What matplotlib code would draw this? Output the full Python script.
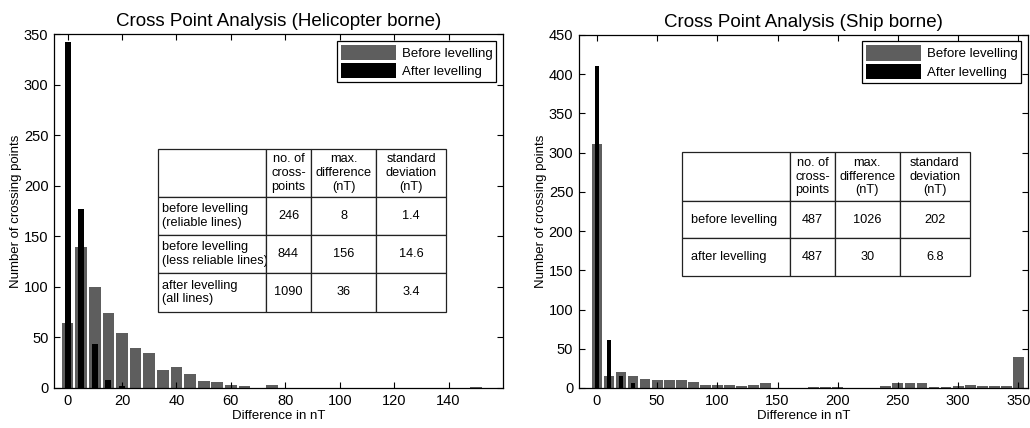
import matplotlib
matplotlib.use("Agg")
import matplotlib.pyplot as plt
from matplotlib.table import Table

plt.rcParams['font.family'] = ['Liberation Sans', 'DejaVu Sans']

GRAY = '#5e5e5e'

# helicopter borne, 5 nT bins
heli_bins = [0, 5, 10, 15, 20, 25, 30, 35, 40, 45, 50, 55, 60, 65, 70, 75,
             80, 85, 90, 95, 100, 105, 110, 115, 120, 125, 130, 135, 140, 145, 150]
heli_before = [64, 139, 100, 74, 54, 40, 35, 18, 21, 14, 7, 6, 3, 2, 0, 3,
               0, 0, 0, 0, 0, 0, 0, 0, 0, 0, 0, 0, 0, 0, 1]
heli_after_bins = [0, 5, 10, 15, 20]
heli_after = [342, 177, 43, 8, 2]

# ship borne, 10 nT bins
ship_bins = [0, 10, 20, 30, 40, 50, 60, 70, 80, 90, 100, 110, 120, 130, 140, 150,
             160, 170, 180, 190, 200, 210, 220, 230, 240, 250, 260, 270, 280, 290,
             300, 310, 320, 330, 340, 350]
ship_before = [311, 15, 20, 15, 11, 10, 10, 10, 8, 4, 4, 4, 3, 4, 6, 0,
               0, 0, 1, 1, 1, 0, 0, 0, 3, 6, 6, 6, 1, 1,
               3, 4, 3, 3, 3, 40]
ship_after_bins = [0, 10, 20, 30]
ship_after = [410, 61, 15, 6]

table_header = ['', 'no. of\ncross-\npoints', 'max.\ndifference\n(nT)', 'standard\ndeviation\n(nT)']
heli_rows = [['before levelling\n(reliable lines)', '246', '8', '1.4'],
             ['before levelling\n(less reliable lines)', '844', '156', '14.6'],
             ['after levelling\n(all lines)', '1090', '36', '3.4']]
ship_rows = [['before levelling', '487', '1026', '202'],
             ['after levelling', '487', '30', '6.8']]

col_w = [108, 45, 65, 70]


def draw_table(ax, rows, bbox, row_h, pad):
    tab = Table(ax, bbox=bbox)
    allrows = [table_header] + rows
    for r, line in enumerate(allrows):
        for c, txt in enumerate(line):
            loc = 'left' if c == 0 else 'center'
            cell = tab.add_cell(r, c, col_w[c], row_h[r], text=txt, loc=loc)
            cell.PAD = pad
            cell.set_linewidth(0.9)
            cell.set_edgecolor('#222222')
    tab.auto_set_font_size(False)
    tab.set_fontsize(9.2)
    ax.add_table(tab)


def style_axes(ax, title, xt, yt, xlim, ylim):
    ax.set_xlim(*xlim)
    ax.set_ylim(*ylim)
    ax.set_xticks(xt)
    ax.set_yticks(yt)
    ax.tick_params(direction='in', top=True, right=True, length=4.5,
                   labelsize=10.5, width=0.8, pad=4)
    for s in ax.spines.values():
        s.set_linewidth(0.9)
    ax.set_title(title, fontsize=13.5, pad=6)
    ax.set_xlabel('Difference in nT', fontsize=9.5, labelpad=2)
    ax.set_ylabel('Number of crossing points', fontsize=9.5, labelpad=1)
    ax.legend(loc='upper right', fontsize=9.5, fancybox=False, edgecolor='black',
              framealpha=1, handlelength=4.2, handleheight=1.4, borderaxespad=0.5,
              labelspacing=0.25, handletextpad=0.4, borderpad=0.3)
    ax.get_legend().get_frame().set_linewidth(0.9)


fig = plt.figure(figsize=(10.3, 4.28), dpi=100)

ax1 = fig.add_axes([0.0524, 0.0935, 0.436, 0.827])
ax1.bar(heli_bins, heli_before, width=4.3, color=GRAY, label='Before levelling', zorder=1)
ax1.bar(heli_after_bins, heli_after, width=2.2, color='black', label='After levelling', zorder=1.2)
style_axes(ax1, 'Cross Point Analysis (Helicopter borne)', range(0, 141, 20),
           range(0, 351, 50), (-5, 160), (0, 350))
draw_table(ax1, heli_rows, [0.2316, 0.2147, 0.6414, 0.4603], [48, 38, 38, 39], 0.04)

ax2 = fig.add_axes([0.562, 0.0935, 0.436, 0.825])
ax2.bar(ship_bins, ship_before, width=9, color=GRAY, label='Before levelling', zorder=1)
ax2.bar(ship_after_bins, ship_after, width=3.6, color='black', label='After levelling', zorder=1.2)
style_axes(ax2, 'Cross Point Analysis (Ship borne)', range(0, 351, 50),
           range(0, 451, 50), (-15, 358), (0, 450))
draw_table(ax2, ship_rows, [0.2294, 0.317, 0.6414, 0.351], [49, 37, 38], 0.08)

fig.savefig('out.png', dpi=100)
